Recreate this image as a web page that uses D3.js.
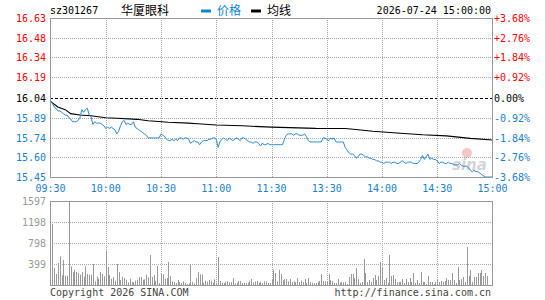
<!DOCTYPE html>
<html><head><meta charset="utf-8">
<script src="https://cdn.jsdelivr.net/npm/d3@7"></script>
<style>html,body{margin:0;padding:0;background:#fff;} svg{display:block;}</style>
</head><body><svg id="c" width="545" height="300"></svg>
<script>
const stockCode = "sz301267";
const stockName = "华厦眼科";
const legendLabels = ["价格", "均线"];
const dateTime = "2026-07-24 15:00:00";
const prevClose = 16.04;
const priceTicks = [16.63, 16.48, 16.34, 16.19, 16.04, 15.89, 15.74, 15.60, 15.45];
const pctTicks = ["+3.68%", "+2.76%", "+1.84%", "+0.92%", "0.00%", "-0.92%", "-1.84%", "-2.76%", "-3.68%"];
const timeLabels = ["09:30", "10:00", "10:30", "11:00", "11:30", "13:30", "14:00", "14:30", "15:00"];
const volumeTicks = [1597, 1198, 798, 399];
const copyrightText = "Copyright 2026 SINA.COM";
const urlText = "http://finance.sina.com.cn";

// minute-by-minute price (241 minutes: 09:30-11:30, 13:00-15:00)
const prices = [
16.01,16.00,15.97,15.96,15.94,15.94,15.93,15.92,15.91,15.91,
15.89,15.88,15.86,15.86,15.86,15.87,15.89,15.95,15.93,15.95,
15.96,15.91,15.90,15.84,15.86,15.85,15.85,15.85,15.84,15.83,
15.81,15.82,15.81,15.82,15.81,15.80,15.77,15.79,15.83,15.86,
15.87,15.84,15.85,15.84,15.84,15.86,15.82,15.81,15.80,15.79,
15.78,15.77,15.76,15.74,15.74,15.74,15.74,15.74,15.74,15.74,
15.77,15.76,15.75,15.73,15.72,15.72,15.73,15.72,15.73,15.72,
15.74,15.74,15.73,15.74,15.74,15.73,15.70,15.71,15.72,15.71,
15.71,15.69,15.71,15.72,15.72,15.72,15.73,15.73,15.74,15.74,
15.73,15.67,15.71,15.73,15.74,15.73,15.72,15.74,15.73,15.72,
15.73,15.74,15.73,15.72,15.74,15.74,15.73,15.72,15.71,15.71,
15.70,15.71,15.71,15.70,15.68,15.70,15.69,15.69,15.70,15.69,
15.69,
15.69,15.69,15.69,15.69,15.69,15.69,15.73,15.76,15.77,15.77,
15.77,15.76,15.77,15.77,15.76,15.76,15.76,15.77,15.75,15.72,
15.71,15.71,15.71,15.71,15.71,15.71,15.71,15.74,15.74,15.73,
15.72,15.74,15.73,15.74,15.71,15.71,15.71,15.71,15.71,15.67,
15.65,15.63,15.62,15.62,15.61,15.59,15.60,15.62,15.62,15.61,
15.60,15.60,15.59,15.59,15.58,15.58,15.57,15.57,15.56,15.56,
15.55,15.56,15.56,15.56,15.55,15.56,15.56,15.55,15.55,15.56,
15.57,15.56,15.55,15.56,15.56,15.56,15.55,15.55,15.55,15.56,
15.58,15.61,15.58,15.60,15.62,15.58,15.59,15.58,15.58,15.57,
15.55,15.56,15.56,15.55,15.55,15.56,15.55,15.55,15.54,15.54,
15.54,15.55,15.54,15.53,15.53,15.53,15.52,15.50,15.49,15.50,
15.49,15.49,15.48,15.47,15.46,15.45,15.45,15.45,15.45,15.45
];

// average price line, read at sampled minutes
const avgMinutes = [0, 4, 8, 11, 16, 22, 30, 36, 47, 53, 64, 75, 80, 90, 104, 120, 144, 160, 163, 175, 190, 202, 215, 228, 240];
const avgPrices = [16.01, 15.97, 15.95, 15.92, 15.91, 15.905, 15.89, 15.886, 15.878, 15.868, 15.856, 15.85, 15.845, 15.836, 15.83, 15.82, 15.811, 15.81, 15.806, 15.79, 15.775, 15.763, 15.755, 15.737, 15.725];

// minute-by-minute volume
const volumes = [
0,1160,323,209,418,545,184,475,177,177,
1597,355,247,291,247,228,196,247,158,355,
209,196,196,399,70,158,120,247,209,165,
652,342,190,120,152,82,399,247,95,158,
133,101,51,120,57,51,82,95,146,152,
101,108,196,146,570,152,190,82,361,38,
209,203,120,133,437,171,70,57,38,95,
57,38,70,38,19,32,399,57,32,133,
247,203,196,44,82,63,95,76,44,108,
44,533,76,44,38,63,70,51,57,133,
32,44,76,76,38,38,38,44,82,114,
51,70,76,38,57,32,70,63,38,38,
101,
291,228,70,291,209,89,114,114,70,114,
51,70,51,133,57,82,57,114,38,133,
51,44,38,38,57,76,209,70,70,63,
209,95,76,38,38,114,51,51,51,51,
19,152,209,209,133,323,114,38,57,494,
228,57,95,57,133,190,95,171,437,342,
95,133,44,570,171,190,114,57,57,57,
114,38,114,57,133,57,228,38,95,38,
247,57,57,19,171,57,57,19,57,95,
57,76,57,76,133,95,95,228,95,38,
342,95,114,152,57,722,171,285,57,152,
152,228,228,285,171,228,171,0,0,0
];

const svg = d3.select("#c");
const MONO = "'DejaVu Sans Mono', 'Liberation Mono', monospace";
const CJK = "'Noto Sans CJK SC', sans-serif";
const RED = "#ff0000", BLUE = "#1a80d0", LINEBLUE = "#2a8ad8", GRID = "#aaaaaa", FRAME = "#999999";

const L = 50, R = 492, PT = 18, PB = 177, VT = 201, VB = 285;
const x = d3.scaleLinear().domain([0, 240]).range([L + 0.5, R + 0.5]);
const y = d3.scaleLinear().domain([15.45, 16.63]).range([PB, PT]);
const yv = d3.scaleLinear().domain([0, 1597]).range([VB, VT]);
const crisp = v => Math.round(v) + 0.5;

// header
svg.append("text").attr("x", 50).attr("y", 14).attr("font-family", MONO).attr("font-size", 10).attr("fill", "#000").text(stockCode);
svg.append("text").attr("x", 121).attr("y", 15).attr("font-family", CJK).attr("font-size", 12).attr("fill", "#000").text(stockName);
svg.append("rect").attr("x", 201).attr("y", 9.5).attr("width", 10).attr("height", 3).attr("fill", "#0a86d6");
svg.append("text").attr("x", 217).attr("y", 15).attr("font-family", CJK).attr("font-size", 12).attr("fill", "#0a86d6").text(legendLabels[0]);
svg.append("rect").attr("x", 251).attr("y", 9.5).attr("width", 10).attr("height", 3).attr("fill", "#000");
svg.append("text").attr("x", 267).attr("y", 15).attr("font-family", CJK).attr("font-size", 12).attr("fill", "#000").text(legendLabels[1]);
svg.append("text").attr("x", 491).attr("y", 14).attr("text-anchor", "end").attr("font-family", MONO).attr("font-size", 10).attr("fill", "#000").text(dateTime);

// watermark
const wm = svg.append("g").attr("opacity", 0.35);
wm.append("circle").attr("cx", 467).attr("cy", 153).attr("r", 5).attr("fill", "#e06060");
wm.append("text").attr("x", 452).attr("y", 170).attr("font-family", "'DejaVu Sans', sans-serif").attr("font-weight", "bold").attr("font-style", "italic").attr("font-size", 15).attr("fill", "#888").text("sina");

// price grid
const gridG = svg.append("g");
priceTicks.forEach((t, k) => {
  if (k === 0 || k === priceTicks.length - 1) return;
  const yy = crisp(y(t));
  gridG.append("line").attr("x1", L).attr("x2", R).attr("y1", yy).attr("y2", yy)
    .attr("stroke", t === prevClose ? "#000" : GRID)
    .attr("stroke-dasharray", t === prevClose ? "3,2" : "1,1")
    .attr("stroke-width", 1);
});
timeLabels.forEach((lab, k) => {
  if (k === 0 || k === timeLabels.length - 1) return;
  const xx = crisp(x(k * 30));
  gridG.append("line").attr("x1", xx).attr("x2", xx).attr("y1", PT).attr("y2", PB)
    .attr("stroke", GRID).attr("stroke-dasharray", "1,1");
  gridG.append("line").attr("x1", xx).attr("x2", xx).attr("y1", VT).attr("y2", VB)
    .attr("stroke", GRID).attr("stroke-dasharray", "1,1");
});
volumeTicks.forEach((t, k) => {
  if (k === 0) return;
  const yy = crisp(yv(t));
  gridG.append("line").attr("x1", L).attr("x2", R).attr("y1", yy).attr("y2", yy)
    .attr("stroke", GRID).attr("stroke-dasharray", "1,1");
});

// volume bars
svg.append("g").selectAll("rect").data(volumes).join("rect")
  .attr("x", (d, i) => Math.round(x(i)))
  .attr("y", d => yv(d))
  .attr("width", 1)
  .attr("height", d => VB - yv(d))
  .attr("fill", "#999");

// lines
svg.append("path").datum(avgPrices)
  .attr("d", d3.line().x((d, i) => x(avgMinutes[i])).y(d => y(d)))
  .attr("fill", "none").attr("stroke", "#000").attr("stroke-width", 1.1);
svg.append("path").datum(prices)
  .attr("d", d3.line().x((d, i) => x(i)).y(d => y(d)))
  .attr("fill", "none").attr("stroke", LINEBLUE).attr("stroke-width", 1);

// frames
svg.append("rect").attr("x", L + 0.5).attr("y", PT + 0.5).attr("width", R - L).attr("height", PB - PT)
  .attr("fill", "none").attr("stroke", FRAME);
svg.append("rect").attr("x", L + 0.5).attr("y", VT + 0.5).attr("width", R - L).attr("height", VB - VT)
  .attr("fill", "none").attr("stroke", FRAME);

// price labels
const colorFor = t => t > prevClose ? RED : (t < prevClose ? BLUE : "#000");
priceTicks.forEach((t, k) => {
  const yy = y(t) + 4;
  svg.append("text").attr("x", 46).attr("y", yy).attr("text-anchor", "end")
    .attr("font-family", MONO).attr("font-size", 10).attr("fill", colorFor(t)).text(t.toFixed(2));
  svg.append("text").attr("x", 494).attr("y", yy).attr("text-anchor", "start")
    .attr("font-family", MONO).attr("font-size", 10).attr("fill", colorFor(t)).text(pctTicks[k]);
});

// time labels
timeLabels.forEach((lab, k) => {
  svg.append("text").attr("x", x(k * 30)).attr("y", 192).attr("text-anchor", "middle")
    .attr("font-family", MONO).attr("font-size", 10).attr("fill", BLUE).text(lab);
});

// volume labels
volumeTicks.forEach(t => {
  svg.append("text").attr("x", 46).attr("y", yv(t) + 4).attr("text-anchor", "end")
    .attr("font-family", MONO).attr("font-size", 10).attr("fill", "#999").text(t);
});

// footer
svg.append("text").attr("x", 50).attr("y", 296).attr("font-family", MONO).attr("font-size", 10).attr("fill", "#444").text(copyrightText);
svg.append("text").attr("x", 491).attr("y", 296).attr("text-anchor", "end").attr("font-family", MONO).attr("font-size", 10).attr("fill", "#444").text(urlText);
</script>
</body></html>
